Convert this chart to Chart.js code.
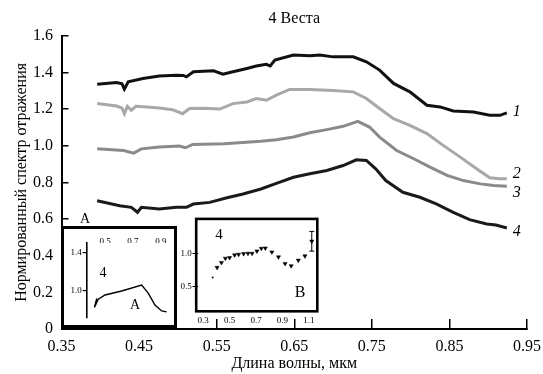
<!DOCTYPE html>
<html>
<head>
<meta charset="utf-8">
<script src="https://cdn.jsdelivr.net/npm/chart.js@4.4.1/dist/chart.umd.min.js"></script>
<style>
body { margin: 0; background: #fff; }
#wrap { position: relative; width: 543px; height: 374px; }
canvas { position: absolute; }
.lbl { position: absolute; font-family: "Liberation Serif", "Times New Roman", serif; color: #000; line-height: 1; transform: translate(-50%, -50%); }
</style>
</head>
<body>
<div id="wrap">
<canvas id="chart" width="543" height="374" style="left:0;top:0"></canvas>
<canvas id="insetA" width="116" height="102" style="left:61px;top:226px"></canvas>
<canvas id="insetB" width="144" height="114" style="left:178px;top:214px"></canvas>
<span class="lbl" style="left:85px;top:219px;font-size:14px">A</span>
<span class="lbl" style="left:103px;top:273px;font-size:14px">4</span>
<span class="lbl" style="left:135px;top:305px;font-size:14px">A</span>
<span class="lbl" style="left:219px;top:234px;font-size:15px">4</span>
<span class="lbl" style="left:300px;top:292px;font-size:16px">B</span>
</div>
<script>
// texts
const title = "4 Веста";
const xTitle = "Длина волны, мкм";
const yTitle = "Нормированный спектр отражения";
const lineNames = ["1", "2", "3", "4"];

// main axes
const xTicks = [0.35, 0.45, 0.55, 0.65, 0.75, 0.85, 0.95];
const yTicks = [0, 0.2, 0.4, 0.6, 0.8, 1.0, 1.2, 1.4, 1.6];

// spectrum 1
const wl1 = [0.396, 0.421, 0.428, 0.431, 0.436, 0.455, 0.476, 0.498, 0.507, 0.511, 0.52, 0.533, 0.546, 0.558, 0.571, 0.589, 0.601, 0.614, 0.619, 0.625, 0.649, 0.67, 0.683, 0.70, 0.726, 0.743, 0.76, 0.778, 0.799, 0.821, 0.838, 0.855, 0.881, 0.902, 0.915, 0.924];
const r1 = [1.336, 1.345, 1.338, 1.309, 1.349, 1.367, 1.38, 1.385, 1.384, 1.376, 1.404, 1.407, 1.409, 1.391, 1.404, 1.422, 1.435, 1.444, 1.435, 1.468, 1.495, 1.491, 1.495, 1.485, 1.485, 1.458, 1.413, 1.34, 1.294, 1.221, 1.212, 1.19, 1.184, 1.166, 1.166, 1.179];

// spectrum 2
const wl2 = [0.396, 0.421, 0.428, 0.431, 0.435, 0.44, 0.446, 0.46, 0.476, 0.493, 0.506, 0.515, 0.533, 0.554, 0.571, 0.589, 0.601, 0.614, 0.627, 0.644, 0.67, 0.70, 0.726, 0.743, 0.76, 0.778, 0.799, 0.821, 0.842, 0.864, 0.885, 0.902, 0.915, 0.924];
const r2 = [1.23, 1.217, 1.205, 1.175, 1.215, 1.194, 1.215, 1.212, 1.206, 1.197, 1.175, 1.203, 1.205, 1.2, 1.23, 1.239, 1.258, 1.248, 1.276, 1.307, 1.307, 1.302, 1.294, 1.258, 1.203, 1.148, 1.111, 1.066, 1.002, 0.938, 0.874, 0.825, 0.82, 0.82];

// spectrum 3
const wl3 = [0.396, 0.43, 0.443, 0.453, 0.476, 0.502, 0.51, 0.519, 0.56, 0.607, 0.627, 0.649, 0.67, 0.692, 0.713, 0.732, 0.747, 0.76, 0.782, 0.804, 0.825, 0.847, 0.868, 0.89, 0.907, 0.924];
const r3 = [0.983, 0.974, 0.96, 0.983, 0.993, 0.998, 0.989, 1.007, 1.011, 1.024, 1.033, 1.048, 1.071, 1.088, 1.106, 1.133, 1.102, 1.047, 0.974, 0.929, 0.883, 0.838, 0.81, 0.792, 0.783, 0.779];

// spectrum 4
const wl4 = [0.396, 0.425, 0.44, 0.448, 0.453, 0.476, 0.498, 0.511, 0.52, 0.541, 0.562, 0.584, 0.607, 0.627, 0.649, 0.67, 0.692, 0.713, 0.73, 0.743, 0.755, 0.768, 0.79, 0.812, 0.833, 0.855, 0.876, 0.898, 0.91, 0.924];
const r4 = [0.70, 0.673, 0.664, 0.637, 0.664, 0.655, 0.664, 0.664, 0.682, 0.691, 0.715, 0.737, 0.764, 0.795, 0.828, 0.847, 0.865, 0.892, 0.923, 0.92, 0.874, 0.81, 0.746, 0.719, 0.683, 0.637, 0.597, 0.573, 0.567, 0.551];

// inset A
const insAx = [0.441, 0.424, 0.452, 0.5, 0.619, 0.762, 0.81, 0.857, 0.905, 0.94];
const insAy = [0.923, 0.828, 0.913, 0.958, 1.0, 1.063, 0.975, 0.853, 0.79, 0.78];
const insATicksX = [0.5, 0.7, 0.9];
const insATicksY = [1.0, 1.4];

// inset B
const insBx = [0.372, 0.405, 0.438, 0.468, 0.5, 0.538, 0.568, 0.606, 0.639, 0.67, 0.707, 0.74, 0.77, 0.82, 0.87, 0.92, 0.966, 1.02, 1.07, 1.122];
const insBy = [0.64, 0.79, 0.865, 0.93, 0.94, 0.98, 0.99, 1.0, 1.005, 1.005, 1.04, 1.08, 1.085, 1.025, 0.95, 0.85, 0.815, 0.9, 0.965, 1.19];
const insBErrX = [1.122, 1.122];
const insBErrY = [1.04, 1.34];
const insBTicksX = [0.3, 0.5, 0.7, 0.9, 1.1];
const insBTicksY = [0.5, 1.0];

const serif = "'Liberation Serif', 'Times New Roman', serif";
Chart.defaults.font.family = serif;
Chart.defaults.color = "#000";

const pts = (xs, ys) => xs.map((x, i) => ({x: x, y: ys[i]}));
const setTicks = arr => s => { s.ticks = arr.map(v => ({value: v})); };

const lineColors = ["#111111", "#a8a8a8", "#8a8a8a", "#1a1a1a"];
const labelShift = [[6, -1], [6, -5], [6, 7], [6, 4]];

const endLabels = {
	id: "endLabels",
	afterDatasetsDraw(chart) {
		const ctx = chart.ctx;
		ctx.save();
		ctx.font = "italic 16px " + serif;
		ctx.fillStyle = "#000";
		ctx.textAlign = "left";
		ctx.textBaseline = "middle";
		chart.data.datasets.forEach((ds, i) => {
			const meta = chart.getDatasetMeta(i);
			const p = meta.data[meta.data.length - 1];
			ctx.fillText(lineNames[i], p.x + labelShift[i][0], p.y + labelShift[i][1]);
		});
		ctx.restore();
	}
};

let datasets = [[wl1, r1], [wl2, r2], [wl3, r3], [wl4, r4]].map((d, i) => ({
	label: lineNames[i],
	data: pts(d[0], d[1]),
	borderColor: lineColors[i],
	borderWidth: 3,
	pointRadius: 0,
	tension: 0,
	fill: false
}));

new Chart(document.getElementById("chart"), {
	type: "line",
	data: { datasets: datasets },
	options: {
		responsive: false,
		animation: false,
		devicePixelRatio: 1,
		layout: { padding: { left: 0, right: 16, top: 0, bottom: 0 } },
		plugins: {
			legend: { display: false },
			tooltip: { enabled: false },
			title: {
				display: true,
				text: title,
				fullSize: false,
				color: "#000",
				font: { size: 16, weight: "normal" },
				padding: { top: 8.7, bottom: 7.9 }
			}
		},
		scales: {
			x: {
				type: "linear",
				min: 0.35,
				max: 0.95,
				afterBuildTicks: setTicks(xTicks),
				afterFit: s => { s.height = 45; s.paddingLeft = 0; s.paddingRight = 0; },
				ticks: { font: { size: 16 }, color: "#000", padding: 18.4, maxRotation: 0, autoSkip: false, callback: v => v.toFixed(2) },
				grid: { drawOnChartArea: false, tickLength: -10, color: "#000", lineWidth: 1.5 },
				border: { color: "#000", width: 2 },
				title: { display: true, text: xTitle, color: "#000", font: { size: 16 }, padding: { top: 0, bottom: 1 } }
			},
			y: {
				type: "linear",
				min: 0,
				max: 1.6,
				afterBuildTicks: setTicks(yTicks),
				afterFit: s => { s.width = 61.5; },
				ticks: { font: { size: 16 }, color: "#000", padding: 15.5, autoSkip: false, callback: v => v === 0 ? "0" : v.toFixed(1) },
				grid: { drawOnChartArea: false, tickLength: -7, color: "#000", lineWidth: 1.5 },
				border: { color: "#000", width: 2 },
				title: { display: true, text: yTitle, color: "#000", font: { size: 16 }, padding: { top: 12.4, bottom: 0 } }
			}
		}
	},
	plugins: [endLabels]
});

// inset A: framed box
const frameA = {
	id: "frameA",
	beforeDraw(chart) {
		const ctx = chart.ctx;
		ctx.save();
		ctx.fillStyle = "#fff";
		ctx.fillRect(0, 0, chart.width, chart.height);
		ctx.restore();
	},
	afterDraw(chart) {
		const ctx = chart.ctx;
		ctx.save();
		ctx.lineWidth = 3;
		ctx.strokeStyle = "#000";
		ctx.strokeRect(1.5, 1.5, chart.width - 3, chart.height - 3);
		ctx.restore();
	}
};

new Chart(document.getElementById("insetA"), {
	type: "line",
	data: { datasets: [{ data: pts(insAx, insAy), borderColor: "#000", borderWidth: 1.4, pointRadius: 0, tension: 0 }] },
	options: {
		responsive: false,
		animation: false,
		devicePixelRatio: 1,
		layout: { padding: { left: 0, right: 4, top: 0, bottom: 10 } },
		plugins: { legend: { display: false }, tooltip: { enabled: false } },
		scales: {
			x: {
				type: "linear",
				position: "top",
				min: 0.369,
				max: 0.986,
				afterBuildTicks: setTicks(insATicksX),
				afterFit: s => { s.height = 17; s.paddingLeft = 0; s.paddingRight = 0; },
				ticks: { font: { size: 9 }, color: "#000", padding: -4, maxRotation: 0, autoSkip: false, callback: v => v.toFixed(1) },
				grid: { display: false, drawTicks: false },
				border: { display: false }
			},
			y: {
				type: "linear",
				min: 0.716,
				max: 1.505,
				afterBuildTicks: setTicks(insATicksY),
				afterFit: s => { s.width = 25.7; },
				ticks: { font: { size: 9 }, color: "#000", padding: 1, autoSkip: false, callback: v => v.toFixed(1) },
				grid: { drawOnChartArea: false, tickLength: 4, color: "#000", lineWidth: 1.2 },
				border: { color: "#000", width: 1.6 }
			}
		}
	},
	plugins: [frameA]
});

// inset B: box around plot area
const frameB = {
	id: "frameB",
	beforeDraw(chart) {
		const a = chart.chartArea;
		const ctx = chart.ctx;
		ctx.save();
		ctx.fillStyle = "#fff";
		ctx.fillRect(a.left, a.top, a.right - a.left, a.bottom - a.top);
		ctx.restore();
	},
	afterDraw(chart) {
		const a = chart.chartArea;
		const ctx = chart.ctx;
		ctx.save();
		ctx.lineWidth = 2.6;
		ctx.strokeStyle = "#000";
		ctx.strokeRect(a.left - 1.3, a.top - 1.3, a.right - a.left + 2.6, a.bottom - a.top + 2.6);
		ctx.restore();
	}
};

new Chart(document.getElementById("insetB"), {
	type: "scatter",
	data: {
		datasets: [
			{
				data: pts(insBx, insBy),
				pointStyle: "triangle",
				rotation: 180,
				pointRadius: c => c.dataIndex === 0 ? 1 : 2.4,
				backgroundColor: "#000",
				borderColor: "#000",
				borderWidth: 0.5
			},
			{
				data: pts(insBErrX, insBErrY),
				showLine: true,
				borderColor: "#000",
				borderWidth: 1,
				pointStyle: "line",
				pointRadius: 2.5,
				pointBorderWidth: 1,
				pointBorderColor: "#000"
			}
		]
	},
	options: {
		responsive: false,
		animation: false,
		devicePixelRatio: 1,
		layout: { padding: { left: 0, right: 6, top: 5, bottom: 0 } },
		plugins: { legend: { display: false }, tooltip: { enabled: false } },
		scales: {
			x: {
				type: "linear",
				min: 0.257,
				max: 1.154,
				afterBuildTicks: setTicks(insBTicksX),
				afterFit: s => { s.height = 18; s.paddingLeft = 0; s.paddingRight = 0; },
				ticks: { font: { size: 9 }, color: "#000", padding: 4.9, maxRotation: 0, autoSkip: false, callback: v => v.toFixed(1) },
				grid: { display: false, drawTicks: false },
				border: { display: false }
			},
			y: {
				type: "linear",
				min: 0.144,
				max: 1.51,
				afterBuildTicks: setTicks(insBTicksY),
				afterFit: s => { s.width = 19.5; },
				ticks: { font: { size: 9 }, color: "#000", padding: 0.8, autoSkip: false, callback: v => v.toFixed(1) },
				grid: { drawOnChartArea: false, tickLength: 5, color: "#000", lineWidth: 1 },
				border: { display: false }
			}
		}
	},
	plugins: [frameB]
});
</script>
</body>
</html>
